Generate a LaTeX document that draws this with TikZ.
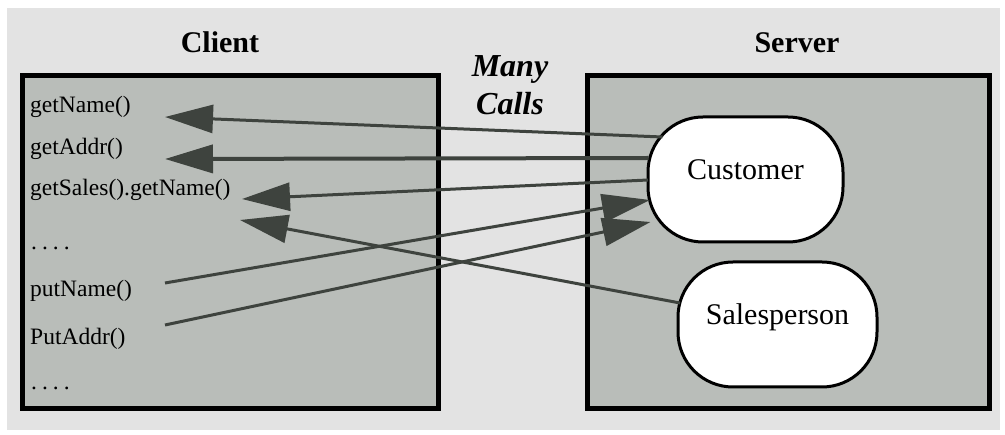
\documentclass[tikz,border=0pt]{standalone}
\usepackage{fontspec}
\setmainfont{Liberation Serif}
\usetikzlibrary{arrows.meta,calc}
\definecolor{bggray}{HTML}{E3E3E3}
\definecolor{boxfill}{HTML}{B9BDB9}
\definecolor{linegray}{HTML}{3E433E}
\begin{document}
\begin{tikzpicture}[x=1pt,y=-1pt,
  panel/.style={draw=black,line width=5pt,fill=boxfill},
  title/.style={font=\fontsize{30}{36}\selectfont\bfseries,anchor=base,inner sep=0pt},
  item/.style={font=\fontsize{23.5}{28}\selectfont,anchor=base west,inner sep=0pt},
  obj/.style={draw=black,line width=3pt,fill=white,rounded corners=55pt,minimum height=125pt,inner sep=0pt,
    font=\fontsize{30}{36}\selectfont,text height=20pt,text depth=20pt},
  call/.style={draw=linegray,line width=3pt,-{Triangle[length=48pt,width=28pt]}},
]
\useasboundingbox (0,0) rectangle (1005,435);
\fill[white] (0,0) rectangle (1005,435);
\fill[bggray] (7,8) rectangle (1000,430);
\draw[panel] (22.5,75.5) rectangle (438.5,408.5);
\draw[panel] (587.5,75.5) rectangle (989.5,408.5);

\node[title] (clienttitle) at (220,53) {Client};
\node[title] (servertitle) at (797,53) {Server};
\node[font=\fontsize{32}{38}\selectfont\bfseries\itshape,align=center,inner sep=0pt] (many) at (510,85) {Many\\Calls};

\node[item] (getname) at (30,113) {getName()};
\node[item] (getaddr) at (30,155) {getAddr()};
\node[item] (getsales) at (30,196) {getSales().getName()};
\node[item] (dots1) at (31,250) {.\hspace{5pt}.\hspace{5pt}.\hspace{5pt}.};
\node[item] (putname) at (30,297) {putName()};
\node[item] (putaddr) at (30,345) {PutAddr()};
\node[item] (dots2) at (31,390) {.\hspace{5pt}.\hspace{5pt}.\hspace{5pt}.};

\node[obj,minimum width=195pt] (cust) at (745.5,179.5) {Customer};
\node[obj,minimum width=199pt] (sales) at (777.5,324.5) {Salesperson};

\coordinate (t1) at (165,117);
\coordinate (t2) at (165,159);
\coordinate (t3) at (242,199);
\coordinate (t4) at (240,220);
\coordinate (s5) at (165,283);
\coordinate (s6) at (165,325);

\draw[call] ($(cust.center)+(-83,-42.5)$) -- (t1);
\draw[call,line width=4pt] ($(cust.center)+(-97,-21.5)$) -- (t2);
\draw[call] ($(cust.center)+(-97.5,0.5)$) -- (t3);
\draw[call] ($(sales.center)+(-97.5,-21.5)$) -- (t4);
\draw[call] (s5) -- ($(cust.center)+(-95.5,20.5)$);
\draw[call] (s6) -- ($(cust.center)+(-95,42.5)$);
\end{tikzpicture}
\end{document}
